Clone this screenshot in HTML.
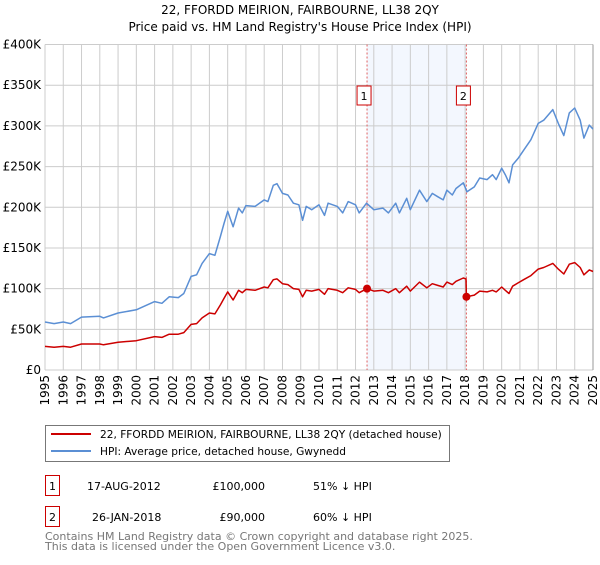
<!DOCTYPE html>
<html><head><meta charset="utf-8"><style>
body{margin:0;background:#fff;width:600px;height:560px;overflow:hidden;font-family:"Liberation Sans","DejaVu Sans",sans-serif;}
svg text{font-family:"DejaVu Sans","Liberation Sans",sans-serif;}
</style></head><body>
<svg id="c" width="600" height="560" xmlns="http://www.w3.org/2000/svg">
<text x="300" y="14" text-anchor="middle" font-size="12" fill="#000">22, FFORDD MEIRION, FAIRBOURNE, LL38 2QY</text>
<text x="300" y="31" text-anchor="middle" font-size="12" fill="#000">Price paid vs. HM Land Registry's House Price Index (HPI)</text>
<g id="grid"></g><g id="marks"></g><g id="axes"></g>
<rect x="45.5" y="425.5" width="404" height="36" fill="#fff" stroke="#777"/>
<line x1="51" y1="434" x2="91" y2="434" stroke="#cc0000" stroke-width="2"/>
<text x="100" y="438" font-size="10.6">22, FFORDD MEIRION, FAIRBOURNE, LL38 2QY (detached house)</text>
<line x1="51" y1="451" x2="91" y2="451" stroke="#5b8fd4" stroke-width="2"/>
<text x="100" y="455" font-size="10.6">HPI: Average price, detached house, Gwynedd</text>
<g>
<rect x="45.5" y="475.5" width="14" height="20" fill="#fff" stroke="#cc0000"/>
<text x="52.5" y="490" font-size="11" text-anchor="middle">1</text>
<text x="87" y="490" font-size="11">17-AUG-2012</text>
<text x="265" y="490" font-size="11" text-anchor="end">£100,000</text>
<text x="313" y="490" font-size="11">51% ↓ HPI</text></g>
<g>
<rect x="45.5" y="506.5" width="14" height="20" fill="#fff" stroke="#cc0000"/>
<text x="52.5" y="521" font-size="11" text-anchor="middle">2</text>
<text x="92" y="521" font-size="11">26-JAN-2018</text>
<text x="265" y="521" font-size="11" text-anchor="end">£90,000</text>
<text x="313" y="521" font-size="11">60% ↓ HPI</text></g>
<text x="45" y="540" font-size="11" fill="#777">Contains HM Land Registry data © Crown copyright and database right 2025.</text>
<text x="45" y="550" font-size="11" fill="#777">This data is licensed under the Open Government Licence v3.0.</text>
</svg>
<script>
const hpiDates=[1995.0,1995.5,1996.0,1996.4,1997.0,1998.0,1998.2,1999.0,2000.0,2001.0,2001.4,2001.8,2002.3,2002.6,2003.0,2003.3,2003.6,2004.0,2004.3,2004.6,2004.8,2005.0,2005.3,2005.6,2005.8,2006.0,2006.5,2007.0,2007.2,2007.5,2007.7,2008.0,2008.3,2008.6,2008.9,2009.1,2009.3,2009.6,2010.0,2010.3,2010.5,2011.0,2011.3,2011.6,2012.0,2012.2,2012.6,2013.0,2013.5,2013.8,2014.2,2014.4,2014.8,2015.0,2015.5,2015.9,2016.2,2016.5,2016.8,2017.0,2017.3,2017.5,2017.9,2018.1,2018.5,2018.8,2019.2,2019.5,2019.7,2020.0,2020.2,2020.4,2020.6,2020.9,2021.2,2021.6,2022.0,2022.3,2022.8,2023.1,2023.4,2023.7,2024.0,2024.3,2024.5,2024.8,2025.0];
const hpiValues=[59,57,59,57,65,66,64,70,74,84,82,90,89,94,115,117,131,143,141,164,180,195,176,199,193,202,201,209,207,227,229,217,215,205,203,184,201,197,203,190,205,201,193,207,203,193,205,197,199,193,205,193,211,197,221,207,217,213,209,221,215,223,230,219,225,236,234,240,234,248,240,230,252,260,270,283,303,307,320,303,288,316,322,307,285,301,296];
const priceDates=[1995.0,1995.5,1996.0,1996.4,1997.0,1998.0,1998.2,1999.0,2000.0,2001.0,2001.4,2001.8,2002.3,2002.6,2003.0,2003.3,2003.6,2004.0,2004.3,2004.6,2004.8,2005.0,2005.3,2005.6,2005.8,2006.0,2006.5,2007.0,2007.2,2007.5,2007.7,2008.0,2008.3,2008.6,2008.9,2009.1,2009.3,2009.6,2010.0,2010.3,2010.5,2011.0,2011.3,2011.6,2012.0,2012.2,2012.63,2013.0,2013.5,2013.8,2014.2,2014.4,2014.8,2015.0,2015.5,2015.9,2016.2,2016.5,2016.8,2017.0,2017.3,2017.5,2017.9,2018.05,2018.07,2018.5,2018.8,2019.2,2019.5,2019.7,2020.0,2020.2,2020.4,2020.6,2020.9,2021.2,2021.6,2022.0,2022.3,2022.8,2023.1,2023.4,2023.7,2024.0,2024.3,2024.5,2024.8,2025.0];
const priceValues=[29,28,29,28,32,32,31,34,36,41,40,44,44,46,56,57,64,70,69,80,88,96,86,98,95,99,98,102,101,111,112,106,105,100,99,90,98,97,99,93,100,98,95,101,99,95,100,97,98,95,100,95,103,97,108,101,106,104,102,108,105,109,113,112,90,92,97,96,98,96,102,98,94,103,107,111,116,124,126,131,124,118,130,132,126,117,123,121];
const saleDates=[2012.63,2018.07];
const saleValues=[100,90];
const saleLabels=["1","2"];
const yTicks=[0,50,100,150,200,250,300,350,400];
const yTickLabels=["£0","£50K","£100K","£150K","£200K","£250K","£300K","£350K","£400K"];
const xTicks=[1995,1996,1997,1998,1999,2000,2001,2002,2003,2004,2005,2006,2007,2008,2009,2010,2011,2012,2013,2014,2015,2016,2017,2018,2019,2020,2021,2022,2023,2024,2025];

const NS="http://www.w3.org/2000/svg";
const L=45,R=593,T=44.5,B=370;
const xs=d=>L+(d-1995)*(R-L)/30;
const ys=v=>B-v*(B-T)/400;
function mk(tag,attrs,parent){const e=document.createElementNS(NS,tag);for(const k in attrs)e.setAttribute(k,attrs[k]);parent.appendChild(e);return e;}
const grid=document.getElementById('grid'),marks=document.getElementById('marks'),axes=document.getElementById('axes');
const sh=mk('rect',{x:xs(saleDates[0]),y:T,width:xs(saleDates[1])-xs(saleDates[0]),height:B-T,fill:'#eef3fd',opacity:0.7},grid);


yTicks.forEach((v,i)=>{
  const l=mk('line',{x1:L,x2:R,y1:ys(v),y2:ys(v),stroke:'#cccccc','stroke-width':1},grid);
  
  
  const t=mk('text',{x:L-4,y:ys(v)+4,'text-anchor':'end','font-size':12,fill:'#000'},axes);
  t.textContent=yTickLabels[i];
  
  
});
xTicks.forEach(y=>{
  const l=mk('line',{x1:xs(y),x2:xs(y),y1:T,y2:B,stroke:'#cccccc','stroke-width':1},grid);
  
  
  const t=mk('text',{x:0,y:0,'text-anchor':'end','font-size':12,fill:'#000',transform:`translate(${xs(y)+4},${B+5}) rotate(-90)`},axes);
  t.textContent=y;
  
  
});
const rb=mk('line',{x1:R,x2:R,y1:T,y2:B,stroke:'#999','stroke-width':1},grid);


saleDates.forEach((d,i)=>{
  const l=mk('line',{x1:xs(d),x2:xs(d),y1:T,y2:B,stroke:'#e06060','stroke-width':1,'stroke-dasharray':'2,2'},grid);
  
  
  const g=mk('g',{},axes);
  
  
  mk('rect',{x:xs(d)-10,y:86,width:14,height:19,fill:'#fff',stroke:'#cc0000'},g);
  const t=mk('text',{x:xs(d)-3,y:100,'text-anchor':'middle','font-size':11},g);
  t.textContent=saleLabels[i];
});
function path(ds,vs){return ds.map((d,i)=>(i?'L':'M')+xs(d).toFixed(1)+','+ys(vs[i]).toFixed(1)).join('');}
const hp=mk('path',{d:path(hpiDates,hpiValues),fill:'none',stroke:'#5b8fd4','stroke-width':1.5,'stroke-linejoin':'round'},marks);


const pp=mk('path',{d:path(priceDates,priceValues),fill:'none',stroke:'#cc0000','stroke-width':1.5,'stroke-linejoin':'round'},marks);


saleDates.forEach((d,i)=>{
  const c=mk('circle',{cx:xs(d),cy:ys(saleValues[i]),r:4,fill:'#cc0000'},marks);
  
  
});
</script>
</body></html>
